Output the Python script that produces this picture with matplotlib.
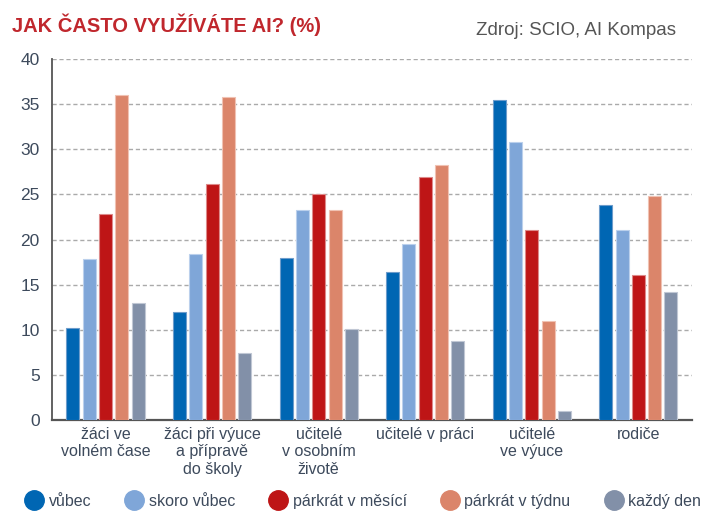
import matplotlib.pyplot as plt
from matplotlib.lines import Line2D
import numpy as np

categories = ['žáci ve\nvolném čase', 'žáci při výuce\na přípravě\ndo školy',
              'učitelé\nv osobním\nživotě', 'učitelé v práci', 'učitelé\nve výuce', 'rodiče']
series_names = ['vůbec', 'skoro vůbec', 'párkrát v měsící', 'párkrát v týdnu', 'každý den']
vubec = [10.2, 12.0, 18.0, 16.4, 35.5, 23.8]
skoro_vubec = [17.8, 18.4, 23.3, 19.5, 30.8, 21.1]
mesici = [22.8, 26.1, 25.0, 26.9, 21.1, 16.1]
tydnu = [36.0, 35.8, 23.3, 28.3, 11.0, 24.8]
kazdy_den = [13.0, 7.4, 10.1, 8.7, 1.0, 14.2]
y_ticks = [0, 5, 10, 15, 20, 25, 30, 35, 40]

colors = ['#0066B3', '#7FA6D8', '#BE1516', '#DB856A', '#8290A8']
edges = ['#6D9CCB', '#BBD0EC', '#DD8A8A', '#F0C2B3', '#C0C7D4']
text_col = '#3D4A5C'

plt.rcParams['font.family'] = ['Liberation Sans', 'DejaVu Sans']

fig = plt.figure(figsize=(7.06, 5.16), dpi=100)
ax = fig.add_axes([0.0741, 0.186, 0.9056, 0.6997])

x = np.arange(len(categories))
pitch = 0.153
width = 0.122
all_series = [vubec, skoro_vubec, mesici, tydnu, kazdy_den]
for i, vals in enumerate(all_series):
	ax.bar(x + (i - 2) * pitch, vals, width, color=colors[i], edgecolor=edges[i], linewidth=0.8, zorder=3)

ax.set_xlim(-0.5, 5.5)
ax.set_ylim(0, 40)
ax.set_yticks(y_ticks)
ax.set_xticks(x)
ax.set_xticklabels(categories, fontsize=11.5, color=text_col, linespacing=1.2, va='top')
ax.tick_params(axis='y', length=0, labelsize=12.5, labelcolor=text_col, pad=9)
ax.tick_params(axis='x', length=0, pad=5)
ax.grid(axis='y', color='#AAAAAA', linestyle=(0, (3, 2)), linewidth=1, zorder=0)
for s in ['top', 'right']:
	ax.spines[s].set_visible(False)
ax.spines['left'].set_color('#555555')
ax.spines['bottom'].set_color('#555555')
ax.spines['left'].set_linewidth(1.3)
ax.spines['bottom'].set_linewidth(1.6)

fig.text(0.017, 0.953, 'JAK ČASTO VYUŽÍVÁTE AI? (%)', color='#C0272D', fontsize=14.5,
         fontweight='bold', va='center', ha='left')
fig.text(0.958, 0.940, 'Zdroj: SCIO, AI Kompas', color='#555555', fontsize=13.5,
         va='center', ha='right')

handles = [Line2D([], [], marker='o', linestyle='', markersize=14, color=c) for c in colors]
fig.legend(handles, series_names, loc='center left', bbox_to_anchor=(0.035, 0.029), ncol=5,
           frameon=False, fontsize=11.5, labelcolor=text_col, handletextpad=0.3,
           columnspacing=2.1, handlelength=1.2, borderaxespad=0, borderpad=0)

fig.savefig('out.png', dpi=100)
